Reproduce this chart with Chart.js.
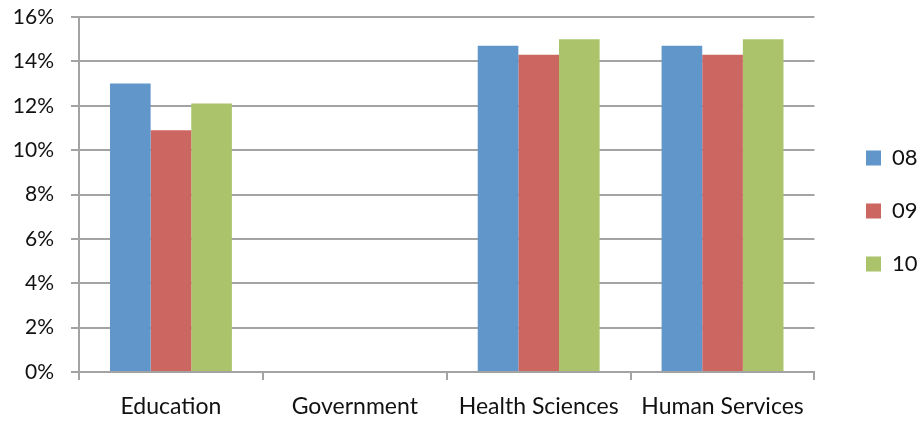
<!DOCTYPE html>
<html>
<head>
<meta charset="utf-8">
<script src="https://cdn.jsdelivr.net/npm/chart.js@4"></script>
<style>
  html, body { margin: 0; padding: 0; background: #ffffff; }
  #wrap { width: 917px; height: 421px; }
</style>
</head>
<body>
<div id="wrap"><canvas id="chart" width="917" height="421"></canvas></div>
<script>
// Share by field, in percent, for the years 08, 09 and 10
const categories = ['Education', 'Government', 'Health Sciences', 'Human Services'];
const seriesNames = ['08', '09', '10'];
const values08 = [13.0, 0, 14.7, 14.7];
const values09 = [10.9, 0, 14.3, 14.3];
const values10 = [12.1, 0, 15.0, 15.0];
const yTicks = [0, 2, 4, 6, 8, 10, 12, 14, 16];

const seriesColors = ['#6096c9', '#cc6660', '#abc46b'];
const FONT = 'Lato, "Open Sans", sans-serif';
const GRID = '#a3a3a3';

// Moves the legend block to sit to the right of the plot
const legendPlacer = {
  id: 'legendPlacer',
  afterLayout(chart) {
    const lg = chart.legend;
    if (!lg) return;
    const w = lg.width, h = lg.height;
    lg.left = 835; lg.right = lg.left + w;
    lg.top = 116; lg.bottom = lg.top + h;
  }
};

new Chart(document.getElementById('chart'), {
  type: 'bar',
  data: {
    labels: categories,
    datasets: [values08, values09, values10].map((vals, i) => ({
      label: seriesNames[i],
      data: vals,
      backgroundColor: seriesColors[i],
      borderWidth: 0,
      categoryPercentage: 0.663,
      barPercentage: 1.0
    }))
  },
  options: {
    responsive: false,
    animation: false,
    layout: { padding: { top: 17, right: 10, bottom: 0, left: 0 } },
    plugins: {
      tooltip: { enabled: false },
      legend: {
        position: 'right',
        align: 'start',
        labels: {
          boxWidth: 15,
          boxHeight: 15,
          padding: 31,
          color: '#111111',
          font: { family: FONT, size: 22 }
        }
      }
    },
    scales: {
      x: {
        offset: true,
        afterFit(scale) {
          scale.height = 49;
          scale.paddingLeft = 0; scale.paddingRight = 0;
        },
        grid: {
          offset: true,
          drawOnChartArea: false,
          drawTicks: true,
          tickLength: 8,
          color: GRID,
          lineWidth: 2
        },
        border: { color: GRID, width: 2 },
        ticks: {
          color: '#111111',
          padding: 13,
          maxRotation: 0,
          autoSkip: false,
          font: { family: FONT, size: 23 }
        }
      },
      y: {
        min: yTicks[0],
        max: yTicks[yTicks.length - 1],
        afterBuildTicks(scale) {
          scale.ticks = yTicks.map(v => ({ value: v }));
        },
        afterFit(scale) {
          scale.width = 79;
          scale.paddingTop = 0; scale.paddingBottom = 0;
        },
        grid: {
          color: GRID,
          lineWidth: 2,
          tickLength: 8
        },
        border: { color: GRID, width: 2 },
        ticks: {
          color: '#111111',
          padding: 17,
          callback: v => v + '%',
          font: { family: FONT, size: 21 }
        }
      }
    }
  },
  plugins: [legendPlacer]
});
</script>
</body>
</html>
